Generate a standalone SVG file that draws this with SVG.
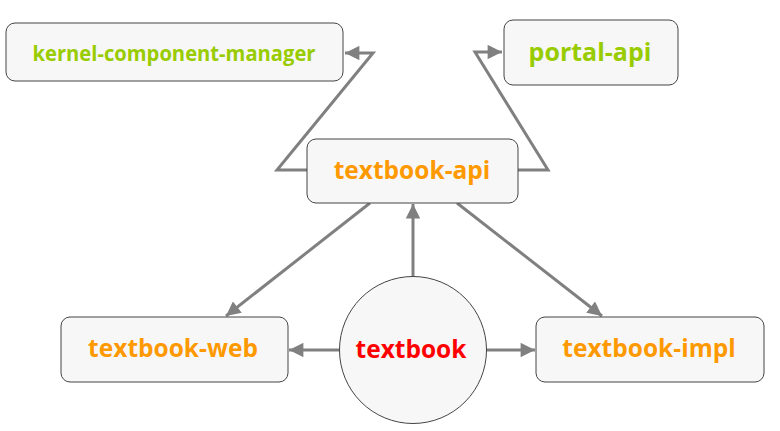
<svg xmlns="http://www.w3.org/2000/svg" width="780" height="431" viewBox="0 0 780 431">
<style>
.box{fill:#f7f7f7;stroke:#444;stroke-width:1}
.t{font-family:"Open Sans","Noto Sans",sans-serif;font-weight:bold;font-size:24.5px;text-anchor:middle}
.g{fill:#99cc00}.o{fill:#ff9900}.r{fill:#ff0000}
.c{fill:none;stroke:#808080;stroke-width:3;stroke-linejoin:miter}
</style>
<defs>
<marker id="ah" viewBox="0 0 10 10" refX="10" refY="5" markerWidth="5" markerHeight="4.8" markerUnits="strokeWidth" orient="auto">
<path d="M0,0L10,5L0,10z" fill="#808080"/>
</marker>
</defs>
<rect width="780" height="431" fill="#fff"/>
<g id="connectors">
<polyline class="c" points="307,170 277,170 373,53 345,53" marker-end="url(#ah)"/>
<polyline class="c" points="517,170 548,170 475,52 502,52" marker-end="url(#ah)"/>
<line class="c" x1="413" y1="276" x2="413" y2="204" marker-end="url(#ah)"/>
<line class="c" x1="370" y1="203" x2="226" y2="316" marker-end="url(#ah)"/>
<line class="c" x1="457" y1="203" x2="602" y2="316" marker-end="url(#ah)"/>
<line class="c" x1="339" y1="350" x2="289" y2="350" marker-end="url(#ah)"/>
<line class="c" x1="486" y1="350" x2="535" y2="350" marker-end="url(#ah)"/>
</g>
<g id="kernel-component-manager"><rect class="box" x="6" y="23" width="337" height="58" rx="9"/><text class="t g" x="174" y="61" style="font-size:22px" textLength="283" lengthAdjust="spacingAndGlyphs">kernel-component-manager</text></g>
<g id="portal-api"><rect class="box" x="504" y="20" width="174" height="65" rx="9"/><text class="t g" x="590" y="61" style="font-size:25px">portal-api</text></g>
<g id="textbook-api"><rect class="box" x="307" y="139" width="211" height="64" rx="9"/><text class="t o" x="412" y="179">textbook-api</text></g>
<g id="textbook-web"><rect class="box" x="61" y="317" width="227" height="65" rx="9"/><text class="t o" x="173" y="357">textbook-web</text></g>
<g id="textbook-impl"><rect class="box" x="536" y="317" width="228" height="65" rx="9"/><text class="t o" x="649" y="357">textbook-impl</text></g>
<g id="textbook"><circle class="box" cx="413" cy="350" r="73.5"/><text class="t r" x="411" y="358">textbook</text></g>
</svg>
